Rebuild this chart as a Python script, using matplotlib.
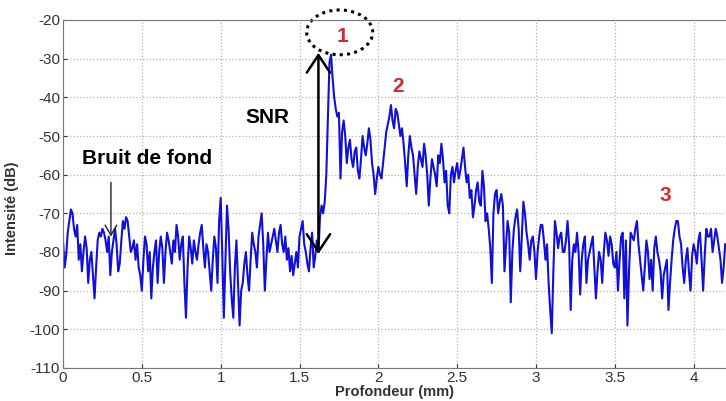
import numpy as np
import matplotlib
matplotlib.use("Agg")
import matplotlib.pyplot as plt
from matplotlib.patches import Ellipse

plt.rcParams['font.family'] = ['Liberation Sans', 'DejaVu Sans']
plt.rcParams['axes.unicode_minus'] = False

# Profondeur en mm, pas de 0.01 mm
depth_step = 0.01

# Intensite (dB), par tranches de 0.5 mm
snr_00_05 = [-77, -84, -81, -75, -72, -69, -70, -74, -76, -73,
             -82, -78, -85, -80, -76, -79, -88, -82, -80, -86,
             -92, -84, -77, -75, -76, -74, -75, -77, -80, -76,
             -86, -80, -77, -74, -78, -85, -83, -77, -72, -74,
             -71, -72, -76, -80, -79, -77, -82, -78, -84, -86]
snr_05_10 = [-90, -82, -76, -78, -85, -80, -92, -84, -80, -77,
             -88, -80, -76, -79, -88, -80, -75, -77, -80, -83,
             -77, -80, -73, -76, -82, -78, -76, -88, -97, -84,
             -76, -79, -83, -77, -80, -82, -78, -75, -73, -79,
             -84, -78, -80, -85, -90, -82, -76, -79, -88, -72]
snr_10_15 = [-66, -80, -97, -82, -68, -74, -85, -92, -97, -84,
             -77, -88, -99, -90, -88, -83, -80, -86, -90, -82,
             -75, -78, -80, -84, -76, -73, -70, -78, -90, -82,
             -75, -80, -78, -76, -74, -77, -80, -75, -73, -78,
             -80, -76, -82, -79, -85, -81, -86, -83, -80, -84]
snr_15_20 = [-76, -74, -72, -78, -80, -83, -85, -79, -75, -84,
             -81, -77, -80, -71, -68, -70, -67, -60, -45, -31,
             -29, -35, -40, -43, -45, -44, -61, -49, -46, -50,
             -57, -53, -51, -56, -58, -54, -53, -59, -61, -56,
             -50, -53, -55, -52, -48, -51, -57, -60, -65, -61]
snr_20_25 = [-58, -60, -61, -57, -53, -49, -47, -45, -42, -46,
             -48, -43, -44, -47, -50, -48, -52, -57, -63, -55,
             -50, -53, -55, -60, -65, -58, -54, -56, -58, -52,
             -55, -60, -68, -61, -56, -58, -60, -63, -55, -57,
             -52, -56, -62, -59, -68, -70, -60, -58, -62, -59]
snr_25_30 = [-57, -61, -59, -56, -53, -58, -62, -60, -66, -64,
             -71, -68, -64, -62, -67, -68, -59, -63, -72, -70,
             -74, -79, -88, -70, -65, -64, -70, -67, -65, -68,
             -85, -78, -72, -75, -93, -80, -74, -71, -69, -74,
             -85, -76, -67, -70, -75, -78, -82, -77, -76, -80]
snr_30_35 = [-87, -80, -76, -73, -73, -77, -82, -78, -88, -95,
             -101, -85, -72, -75, -79, -76, -75, -80, -80, -77,
             -72, -78, -95, -82, -78, -80, -75, -80, -91, -82,
             -78, -76, -88, -82, -80, -78, -76, -84, -92, -85,
             -80, -82, -88, -80, -75, -77, -81, -76, -78, -83]
snr_35_40 = [-84, -80, -90, -82, -76, -75, -92, -77, -99, -85,
             -75, -76, -77, -74, -72, -78, -82, -86, -90, -84,
             -77, -80, -87, -82, -90, -79, -76, -80, -82, -85,
             -92, -86, -84, -82, -95, -88, -82, -77, -74, -72,
             -72, -76, -78, -84, -88, -82, -79, -85, -90, -81]
snr_40_end = [-78, -80, -83, -77, -75, -82, -90, -81, -74, -76,
              -76, -74, -80, -77, -74, -76, -79, -82, -88, -84, -78]

intensity = np.array(snr_00_05 + snr_05_10 + snr_10_15 + snr_15_20 + snr_20_25
                     + snr_25_30 + snr_30_35 + snr_35_40 + snr_40_end)
depth = np.arange(len(intensity)) * depth_step

x_ticks = [0, 0.5, 1, 1.5, 2, 2.5, 3, 3.5, 4]
y_ticks = list(range(-110, -10, 10))

fig = plt.figure(figsize=(7.26, 4.01), dpi=100)
ax = fig.add_axes([63 / 726, 1 - 368 / 401, 1 - 63 / 726, (368 - 20) / 401])

ax.plot(depth, intensity, color='#1010d8', lw=1.5)

ax.set_xlim(0, 4.205)
ax.set_ylim(-110, -20)
ax.set_xticks(x_ticks)
ax.set_xticklabels(['0', '0.5', '1', '1.5', '2', '2.5', '3', '3.5', '4'])
ax.set_yticks(y_ticks)
ax.grid(True, color='#b4b4b4', linestyle=':', lw=0.9)
ax.tick_params(direction='in', length=3, labelsize=11, colors='#333333', pad=2)
for side in ['left', 'top', 'bottom']:
    ax.spines[side].set_color('#777777')
ax.spines['right'].set_visible(False)

ax.set_xlabel('Profondeur (mm)', fontsize=10.5, fontweight='bold', color='#333333', labelpad=0)
ax.set_ylabel('Intensité (dB)', fontsize=10.5, fontweight='bold', color='#333333')
ax.yaxis.set_label_coords(-0.066, 0.46)

# annotations
ax.annotate('', xy=(1.62, -28.5), xytext=(1.62, -80.5),
            arrowprops=dict(arrowstyle='<->,head_length=0.9,head_width=0.6',
                            color='black', lw=1.8, mutation_scale=14, shrinkA=0, shrinkB=0))
ax.text(1.294, -45.3, 'SNR', fontsize=15, fontweight='bold', ha='center', va='center')

ax.text(0.536, -55.7, 'Bruit de fond', fontsize=15, fontweight='bold', ha='center', va='center')
ax.annotate('', xy=(0.304, -76), xytext=(0.304, -62),
            arrowprops=dict(arrowstyle='->,head_length=0.6,head_width=0.35',
                            color='#222222', lw=1.0, mutation_scale=12, shrinkA=0, shrinkB=0))

red = '#d8282c'
ax.text(1.77, -24.3, '1', fontsize=15, fontweight='bold', color=red, ha='center', va='center')
ax.text(2.124, -37.1, '2', fontsize=15, fontweight='bold', color=red, ha='center', va='center')
ax.text(3.82, -65.5, '3', fontsize=15, fontweight='bold', color=red, ha='center', va='center')

ell = Ellipse((1.755, -23.2), 0.419, 11.6, fill=False, edgecolor='black',
              lw=2.2, linestyle=(0, (1, 1.4)), clip_on=False)
ax.add_patch(ell)

fig.savefig('out.png', dpi=100)
